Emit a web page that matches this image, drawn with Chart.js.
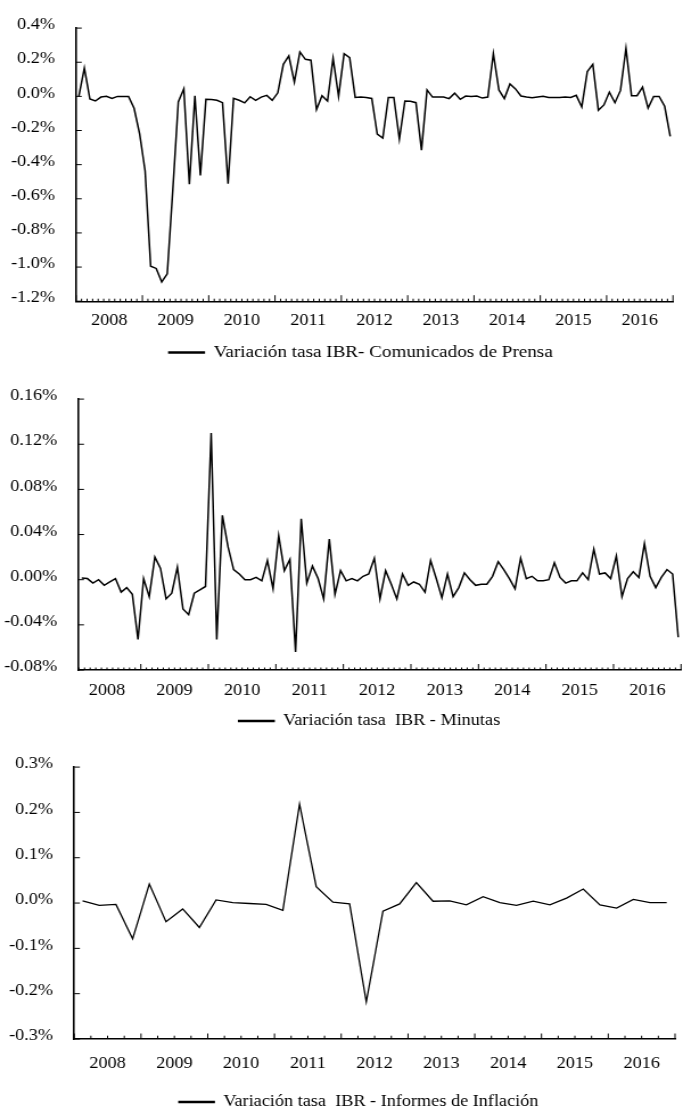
<!DOCTYPE html>
<html>
<head>
<meta charset="utf-8">
<script src="https://cdn.jsdelivr.net/npm/chart.js@4.4.1/dist/chart.umd.min.js"></script>
<style>
  html, body { margin: 0; padding: 0; background: #fff; overflow: hidden; width: 683px; height: 1112px; }
  .wrap { position: absolute; left: 0; width: 600px; transform: scaleX(1.1383); transform-origin: 0 0; }
  canvas { display: block; }
</style>
</head>
<body>
<div class="wrap" style="top:0px"><canvas id="chart1" width="600" height="371"></canvas></div>
<div class="wrap" style="top:371px"><canvas id="chart2" width="600" height="368"></canvas></div>
<div class="wrap" style="top:739px"><canvas id="chart3" width="600" height="381"></canvas></div>
<script>
// tick labels
var years = ['2008', '2009', '2010', '2011', '2012', '2013', '2014', '2015', '2016'];

// monthly change, Jan 2008 - Dec 2016 (%)
var prensa = [0, 0.165, -0.015, -0.027, -0.004, 0, -0.012, 0, 0, 0,
  -0.07, -0.22, -0.437, -0.995, -1.008, -1.087, -1.04, -0.55, -0.033, 0.044,
  -0.515, 0.004, -0.463, -0.017, -0.019, -0.023, -0.037, -0.512, -0.012, -0.023,
  -0.038, -0.002, -0.023, -0.004, 0.006, -0.023, 0.021, 0.188, 0.237, 0.083,
  0.26, 0.217, 0.212, -0.077, 0.004, -0.027, 0.223, 0, 0.25, 0.227,
  -0.006, -0.004, -0.006, -0.012, -0.221, -0.244, -0.006, -0.006, -0.25, -0.027,
  -0.029, -0.037, -0.315, 0.038, -0.004, -0.004, -0.004, -0.013, 0.019, -0.017,
  0.002, 0, 0.002, -0.01, -0.004, 0.25, 0.038, -0.013, 0.073, 0.044,
  0.002, -0.004, -0.008, -0.004, 0, -0.006, -0.006, -0.006, -0.004, -0.006,
  0.006, -0.062, 0.146, 0.188, -0.081, -0.05, 0.025, -0.037, 0.035, 0.281,
  0.004, 0.004, 0.054, -0.069, 0, 0, -0.058, -0.235];

// monthly change, Feb 2008 - Dec 2016 (%)
var minutas = [0.0014, 0.001, -0.003, 0, -0.005, -0.002, 0.001, -0.011, -0.007, -0.013,
  -0.053, 0.001, -0.015, 0.02, 0.01, -0.017, -0.012, 0.011, -0.026, -0.031,
  -0.012, -0.009, -0.006, 0.13, -0.053, 0.057, 0.029, 0.009, 0.005, 0,
  0, 0.002, -0.001, 0.017, -0.008, 0.039, 0.008, 0.018, -0.064, 0.054,
  -0.003, 0.012, 0.001, -0.017, 0.036, -0.013, 0.008, -0.001, 0.001, -0.001,
  0.003, 0.005, 0.019, -0.017, 0.008, -0.004, -0.017, 0.005, -0.005, -0.002,
  -0.004, -0.011, 0.017, 0.001, -0.016, 0.005, -0.015, -0.007, 0.006, 0,
  -0.005, -0.004, -0.004, 0.003, 0.016, 0.009, 0.001, -0.008, 0.019, 0.001,
  0.003, -0.001, -0.001, 0, 0.015, 0.002, -0.003, -0.001, -0.001, 0.006,
  0, 0.027, 0.005, 0.006, 0.001, 0.021, -0.015, 0.001, 0.007, 0.002,
  0.032, 0.003, -0.007, 0.002, 0.009, 0.005, -0.051];

// quarterly change, 2008Q1 - 2016Q4 (%)
var informes = [0.005, -0.005, -0.003, -0.079, 0.042, -0.041, -0.013, -0.054, 0.007, 0.001,
  -0.001, -0.003, -0.016, 0.218, 0.036, 0.002, -0.002, -0.218, -0.018, -0.002,
  0.045, 0.004, 0.005, -0.004, 0.014, 0.001, -0.005, 0.004, -0.004, 0.011,
  0.031, -0.004, -0.011, 0.008, 0.001, 0.001];

Chart.defaults.font.family = "'Liberation Serif', 'Times New Roman', serif";
Chart.defaults.font.size = 16;
Chart.defaults.color = '#000';

// small tick marks drawn inside the plot, like the original
var innerTicks = {
  id: 'innerTicks',
  afterDatasetsDraw(chart, args, opts) {
    const ctx = chart.ctx, area = chart.chartArea;
    const xs = chart.scales.x, ys = chart.scales.y;
    ctx.save();
    ctx.strokeStyle = '#000';
    ctx.lineWidth = 1;
    for (let v = Math.ceil(xs.min); v <= xs.max; v++) {
      const px = xs.getPixelForValue(v);
      const len = v % opts.perYear === 0 ? opts.major : opts.minor;
      ctx.beginPath();
      ctx.moveTo(px, area.bottom);
      ctx.lineTo(px, area.bottom - len);
      ctx.stroke();
    }
    ys.ticks.forEach(t => {
      const py = ys.getPixelForValue(t.value);
      ctx.beginPath();
      ctx.moveTo(area.left, py);
      ctx.lineTo(area.left + 5, py);
      ctx.stroke();
    });
    ctx.restore();
  }
};

// legend in the original is not centred on the canvas
var shiftLegend = {
  id: 'shiftLegend',
  afterLayout(chart, args, opts) {
    chart.legend.left += opts.dx;
    chart.legend.right += opts.dx;
  }
};

function makeChart(id, c) {
  const ctx = document.getElementById(id);
  return new Chart(ctx, {
    type: 'line',
    data: {
      datasets: [{
        label: c.label,
        data: c.values.map((v, i) => ({x: c.start + i + 0.5, y: v})),
        borderColor: '#000',
        backgroundColor: '#000',
        borderWidth: c.lineWidth,
        pointRadius: 0,
        tension: 0
      }]
    },
    options: {
      responsive: false,
      animation: false,
      layout: {padding: {top: c.padTop, right: c.padRight, left: 0, bottom: 0}},
      plugins: {
        legend: {
          position: 'bottom',
          fullSize: false,
          labels: {boxWidth: 31, boxHeight: 1, padding: 10, color: '#000', font: {size: c.legendSize}}
        },
        tooltip: {enabled: false},
        innerTicks: {perYear: c.perYear, major: c.major, minor: c.minor},
        shiftLegend: {dx: c.legendDx}
      },
      scales: {
        x: {
          type: 'linear',
          min: c.xMin,
          max: c.xMax,
          grid: {display: false, drawTicks: false},
          border: {display: true, color: '#000', width: 1.4},
          afterBuildTicks: s => { s.ticks = years.map((y, k) => ({value: k * c.perYear + c.perYear / 2})); },
          afterFit: s => { s.height = c.xHeight; },
          ticks: {
            autoSkip: false,
            maxRotation: 0,
            padding: c.xPad,
            callback: v => years[Math.floor(v / c.perYear)]
          }
        },
        y: {
          min: c.yMin,
          max: c.yMax,
          grid: {display: false, drawTicks: false},
          border: {display: true, color: '#000', width: 1.6},
          afterFit: s => { s.width = c.yWidth; },
          ticks: {
            stepSize: c.step,
            padding: 18.5,
            labelOffset: -3,
            callback: v => v.toFixed(c.decimals) + '%'
          }
        }
      }
    },
    plugins: [innerTicks, shiftLegend]
  });
}

makeChart('chart1', {
  label: 'Variación tasa IBR- Comunicados de Prensa',
  values: prensa, start: 0, perYear: 12, xMin: 0, xMax: 108,
  yMin: -1.2, yMax: 0.4, step: 0.2, decimals: 1,
  yWidth: 66.8, padTop: 24, padRight: 8.8, xHeight: 33, xPad: 9.7,
  lineWidth: 1.5, major: 6, minor: 2.5, legendDx: -12, legendSize: 16.8
});

makeChart('chart2', {
  label: 'Variación tasa  IBR - Minutas',
  values: minutas, start: 1, perYear: 12, xMin: 0.9, xMax: 108,
  yMin: -0.08, yMax: 0.16, step: 0.04, decimals: 2,
  yWidth: 68.8, padTop: 20, padRight: 1.7, xHeight: 33, xPad: 11.4,
  lineWidth: 1.5, major: 6, minor: 2.5, legendDx: -9, legendSize: 16
});

makeChart('chart3', {
  label: 'Variación tasa  IBR - Informes de Inflación',
  values: informes, start: 0, perYear: 4, xMin: 0, xMax: 36,
  yMin: -0.3, yMax: 0.3, step: 0.1, decimals: 1,
  yWidth: 65.2, padTop: 19.7, padRight: 7, xHeight: 45, xPad: 15.3,
  lineWidth: 1.3, major: 5.5, minor: 3.3, legendDx: -14, legendSize: 16
});
</script>
</body>
</html>
